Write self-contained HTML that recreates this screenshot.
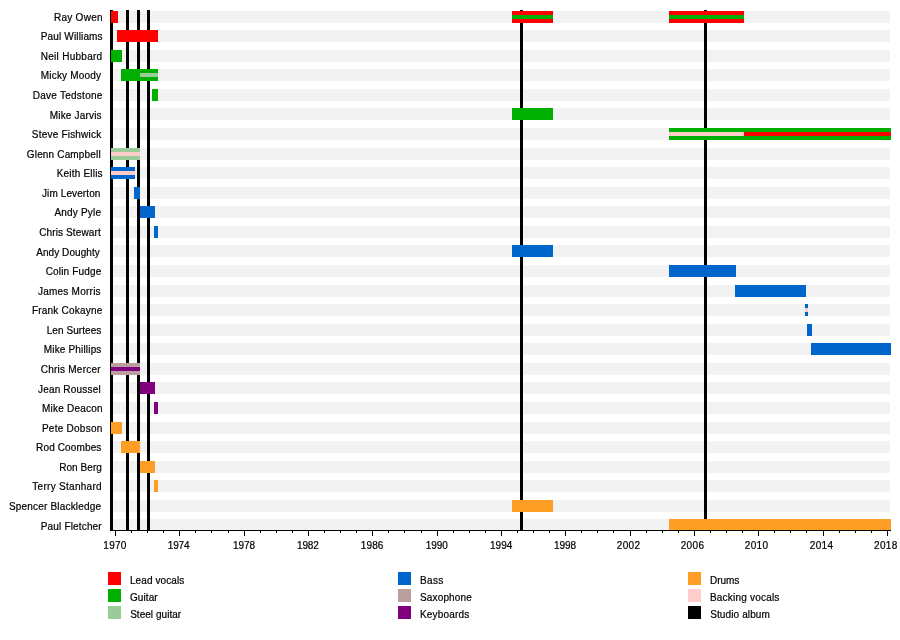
<!DOCTYPE html>
<html><head><meta charset="utf-8"><title>Timeline</title>
<style>html,body{margin:0;padding:0;background:#fff}svg{display:block}text{font-family:"Liberation Sans",Arial,Helvetica,sans-serif;font-size:10px;fill:#000;stroke:#000;stroke-width:0.2px}</style></head><body>
<svg width="900" height="640" viewBox="0 0 900 640" shape-rendering="crispEdges">
<rect width="900" height="640" fill="#fff"/>
<g fill="#f2f2f2">
<rect x="110" y="11" width="780" height="12"/>
<rect x="110" y="30" width="780" height="12"/>
<rect x="110" y="50" width="780" height="12"/>
<rect x="110" y="69" width="780" height="12"/>
<rect x="110" y="89" width="780" height="12"/>
<rect x="110" y="108" width="780" height="12"/>
<rect x="110" y="128" width="780" height="12"/>
<rect x="110" y="148" width="780" height="12"/>
<rect x="110" y="167" width="780" height="12"/>
<rect x="110" y="187" width="780" height="12"/>
<rect x="110" y="206" width="780" height="12"/>
<rect x="110" y="226" width="780" height="12"/>
<rect x="110" y="245" width="780" height="12"/>
<rect x="110" y="265" width="780" height="12"/>
<rect x="110" y="285" width="780" height="12"/>
<rect x="110" y="304" width="780" height="12"/>
<rect x="110" y="324" width="780" height="12"/>
<rect x="110" y="343" width="780" height="12"/>
<rect x="110" y="363" width="780" height="12"/>
<rect x="110" y="382" width="780" height="12"/>
<rect x="110" y="402" width="780" height="12"/>
<rect x="110" y="422" width="780" height="12"/>
<rect x="110" y="441" width="780" height="12"/>
<rect x="110" y="461" width="780" height="12"/>
<rect x="110" y="480" width="780" height="12"/>
<rect x="110" y="500" width="780" height="12"/>
<rect x="110" y="519" width="780" height="12"/>
</g>
<g fill="#000">
<rect x="110" y="10" width="3" height="520"/>
<rect x="126" y="10" width="3" height="520"/>
<rect x="137" y="10" width="3" height="520"/>
<rect x="147" y="10" width="3" height="520"/>
<rect x="520" y="10" width="3" height="520"/>
<rect x="704" y="10" width="3" height="520"/>
</g>
<rect x="111" y="11" width="7" height="12" fill="#ff0000"/>
<rect x="512" y="11" width="41" height="12" fill="#ff0000"/>
<rect x="512" y="15" width="41" height="4" fill="#00af00"/>
<rect x="669" y="11" width="75" height="12" fill="#ff0000"/>
<rect x="669" y="15" width="75" height="4" fill="#00af00"/>
<rect x="117" y="30" width="41" height="12" fill="#ff0000"/>
<rect x="111" y="50" width="11" height="12" fill="#00af00"/>
<rect x="121" y="69" width="37" height="12" fill="#00af00"/>
<rect x="140" y="73" width="18" height="4" fill="#99cc99"/>
<rect x="152" y="89" width="6" height="12" fill="#00af00"/>
<rect x="512" y="108" width="41" height="12" fill="#00af00"/>
<rect x="669" y="128" width="222" height="12" fill="#00af00"/>
<rect x="669" y="132" width="75" height="4" fill="#ffcccc"/>
<rect x="744" y="132" width="147" height="4" fill="#ff0000"/>
<rect x="111" y="148" width="29" height="12" fill="#99cc99"/>
<rect x="111" y="152" width="29" height="4" fill="#ffcccc"/>
<rect x="111" y="167" width="24" height="12" fill="#0066cc"/>
<rect x="111" y="171" width="24" height="4" fill="#ffcccc"/>
<rect x="134" y="187" width="6" height="12" fill="#0066cc"/>
<rect x="140" y="206" width="15" height="12" fill="#0066cc"/>
<rect x="154" y="226" width="4" height="12" fill="#0066cc"/>
<rect x="512" y="245" width="41" height="12" fill="#0066cc"/>
<rect x="669" y="265" width="67" height="12" fill="#0066cc"/>
<rect x="735" y="285" width="71" height="12" fill="#0066cc"/>
<rect x="805" y="304" width="3" height="12" fill="#0066cc"/>
<rect x="805" y="308" width="3" height="4" fill="#ffcccc"/>
<rect x="807" y="324" width="5" height="12" fill="#0066cc"/>
<rect x="811" y="343" width="80" height="12" fill="#0066cc"/>
<rect x="111" y="363" width="29" height="12" fill="#bb9e9e"/>
<rect x="111" y="367" width="29" height="4" fill="#800080"/>
<rect x="140" y="382" width="15" height="12" fill="#800080"/>
<rect x="154" y="402" width="4" height="12" fill="#800080"/>
<rect x="111" y="422" width="11" height="12" fill="#ff9e24"/>
<rect x="121" y="441" width="19" height="12" fill="#ff9e24"/>
<rect x="140" y="461" width="15" height="12" fill="#ff9e24"/>
<rect x="154" y="480" width="4" height="12" fill="#ff9e24"/>
<rect x="512" y="500" width="41" height="12" fill="#ff9e24"/>
<rect x="669" y="519" width="222" height="12" fill="#ff9e24"/>
<g fill="#000">
<rect x="110" y="530" width="781" height="1"/>
<rect x="115" y="530" width="1" height="6"/>
<rect x="131" y="530" width="1" height="3"/>
<rect x="147" y="530" width="1" height="3"/>
<rect x="163" y="530" width="1" height="3"/>
<rect x="179" y="530" width="1" height="6"/>
<rect x="195" y="530" width="1" height="3"/>
<rect x="211" y="530" width="1" height="3"/>
<rect x="228" y="530" width="1" height="3"/>
<rect x="244" y="530" width="1" height="6"/>
<rect x="260" y="530" width="1" height="3"/>
<rect x="276" y="530" width="1" height="3"/>
<rect x="292" y="530" width="1" height="3"/>
<rect x="308" y="530" width="1" height="6"/>
<rect x="324" y="530" width="1" height="3"/>
<rect x="340" y="530" width="1" height="3"/>
<rect x="356" y="530" width="1" height="3"/>
<rect x="372" y="530" width="1" height="6"/>
<rect x="388" y="530" width="1" height="3"/>
<rect x="404" y="530" width="1" height="3"/>
<rect x="421" y="530" width="1" height="3"/>
<rect x="437" y="530" width="1" height="6"/>
<rect x="453" y="530" width="1" height="3"/>
<rect x="469" y="530" width="1" height="3"/>
<rect x="485" y="530" width="1" height="3"/>
<rect x="501" y="530" width="1" height="6"/>
<rect x="517" y="530" width="1" height="3"/>
<rect x="533" y="530" width="1" height="3"/>
<rect x="549" y="530" width="1" height="3"/>
<rect x="565" y="530" width="1" height="6"/>
<rect x="581" y="530" width="1" height="3"/>
<rect x="597" y="530" width="1" height="3"/>
<rect x="613" y="530" width="1" height="3"/>
<rect x="630" y="530" width="1" height="6"/>
<rect x="646" y="530" width="1" height="3"/>
<rect x="662" y="530" width="1" height="3"/>
<rect x="678" y="530" width="1" height="3"/>
<rect x="694" y="530" width="1" height="6"/>
<rect x="710" y="530" width="1" height="3"/>
<rect x="726" y="530" width="1" height="3"/>
<rect x="742" y="530" width="1" height="3"/>
<rect x="758" y="530" width="1" height="6"/>
<rect x="774" y="530" width="1" height="3"/>
<rect x="790" y="530" width="1" height="3"/>
<rect x="806" y="530" width="1" height="3"/>
<rect x="823" y="530" width="1" height="6"/>
<rect x="839" y="530" width="1" height="3"/>
<rect x="855" y="530" width="1" height="3"/>
<rect x="871" y="530" width="1" height="3"/>
<rect x="887" y="530" width="1" height="6"/>
</g>
<text x="103.34" y="548.70" textLength="22.95" lengthAdjust="spacing">1970</text>
<text x="167.74" y="548.70" textLength="21.85" lengthAdjust="spacing">1974</text>
<text x="233.04" y="548.70" textLength="22.00" lengthAdjust="spacing">1978</text>
<text x="297.04" y="548.70" textLength="21.66" lengthAdjust="spacing">1982</text>
<text x="360.84" y="548.70" textLength="22.50" lengthAdjust="spacing">1986</text>
<text x="425.64" y="548.70" textLength="22.15" lengthAdjust="spacing">1990</text>
<text x="489.94" y="548.70" textLength="22.35" lengthAdjust="spacing">1994</text>
<text x="553.94" y="548.70" textLength="22.00" lengthAdjust="spacing">1998</text>
<text x="616.80" y="548.70" textLength="23.21" lengthAdjust="spacing">2002</text>
<text x="680.70" y="548.70" textLength="23.24" lengthAdjust="spacing">2006</text>
<text x="744.80" y="548.70" textLength="23.19" lengthAdjust="spacing">2010</text>
<text x="809.70" y="548.70" textLength="23.40" lengthAdjust="spacing">2014</text>
<text x="874.10" y="548.70" textLength="23.14" lengthAdjust="spacing">2018</text>
<text x="53.98" y="20.70" textLength="48.57" lengthAdjust="spacing">Ray Owen</text>
<text x="40.78" y="39.70" textLength="61.78" lengthAdjust="spacing">Paul Williams</text>
<text x="40.78" y="59.70" textLength="61.36" lengthAdjust="spacing">Neil Hubbard</text>
<text x="40.78" y="78.70" textLength="60.24" lengthAdjust="spacing">Micky Moody</text>
<text x="32.68" y="98.70" textLength="69.66" lengthAdjust="spacing">Dave Tedstone</text>
<text x="49.78" y="118.70" textLength="51.78" lengthAdjust="spacing">Mike Jarvis</text>
<text x="31.85" y="137.70" textLength="69.34" lengthAdjust="spacing">Steve Fishwick</text>
<text x="26.80" y="157.70" textLength="73.87" lengthAdjust="spacing">Glenn Campbell</text>
<text x="56.68" y="176.70" textLength="45.88" lengthAdjust="spacing">Keith Ellis</text>
<text x="41.94" y="196.70" textLength="58.46" lengthAdjust="spacing">Jim Leverton</text>
<text x="54.38" y="215.70" textLength="46.66" lengthAdjust="spacing">Andy Pyle</text>
<text x="39.24" y="235.70" textLength="61.43" lengthAdjust="spacing">Chris Stewart</text>
<text x="36.23" y="255.70" textLength="63.54" lengthAdjust="spacing">Andy Doughty</text>
<text x="45.74" y="274.70" textLength="55.45" lengthAdjust="spacing">Colin Fudge</text>
<text x="37.94" y="294.70" textLength="62.67" lengthAdjust="spacing">James Morris</text>
<text x="31.93" y="313.70" textLength="70.41" lengthAdjust="spacing">Frank Cokayne</text>
<text x="46.68" y="333.70" textLength="54.68" lengthAdjust="spacing">Len Surtees</text>
<text x="43.78" y="352.70" textLength="57.58" lengthAdjust="spacing">Mike Phillips</text>
<text x="40.74" y="372.70" textLength="59.82" lengthAdjust="spacing">Chris Mercer</text>
<text x="37.94" y="392.70" textLength="62.73" lengthAdjust="spacing">Jean Roussel</text>
<text x="41.93" y="411.70" textLength="60.62" lengthAdjust="spacing">Mike Deacon</text>
<text x="41.93" y="431.70" textLength="60.32" lengthAdjust="spacing">Pete Dobson</text>
<text x="36.08" y="450.70" textLength="65.28" lengthAdjust="spacing">Rod Coombes</text>
<text x="59.18" y="470.70" textLength="42.71" lengthAdjust="spacing">Ron Berg</text>
<text x="32.28" y="489.70" textLength="69.37" lengthAdjust="spacing">Terry Stanhard</text>
<text x="8.95" y="509.70" textLength="92.10" lengthAdjust="spacing">Spencer Blackledge</text>
<text x="40.78" y="529.70" textLength="60.89" lengthAdjust="spacing">Paul Fletcher</text>
<rect x="108" y="572" width="13" height="13" fill="#ff0000"/>
<text x="129.88" y="583.60" textLength="54.48" lengthAdjust="spacing">Lead vocals</text>
<rect x="108" y="589" width="13" height="13" fill="#00af00"/>
<text x="130.00" y="600.60" textLength="27.67" lengthAdjust="spacing">Guitar</text>
<rect x="108" y="606" width="13" height="13" fill="#99cc99"/>
<text x="130.15" y="617.60" textLength="51.02" lengthAdjust="spacing">Steel guitar</text>
<rect x="398" y="572" width="13" height="13" fill="#0066cc"/>
<text x="419.88" y="583.60" textLength="23.48" lengthAdjust="spacing">Bass</text>
<rect x="398" y="589" width="13" height="13" fill="#bb9e9e"/>
<text x="420.05" y="600.60" textLength="51.70" lengthAdjust="spacing">Saxophone</text>
<rect x="398" y="606" width="13" height="13" fill="#800080"/>
<text x="419.88" y="617.60" textLength="49.48" lengthAdjust="spacing">Keyboards</text>
<rect x="688" y="572" width="13" height="13" fill="#ff9e24"/>
<text x="709.98" y="583.60" textLength="29.38" lengthAdjust="spacing">Drums</text>
<rect x="688" y="589" width="13" height="13" fill="#ffcccc"/>
<text x="709.88" y="600.60" textLength="69.48" lengthAdjust="spacing">Backing vocals</text>
<rect x="688" y="606" width="13" height="13" fill="#000"/>
<text x="710.15" y="617.60" textLength="59.71" lengthAdjust="spacing">Studio album</text>
</svg>
</body></html>
